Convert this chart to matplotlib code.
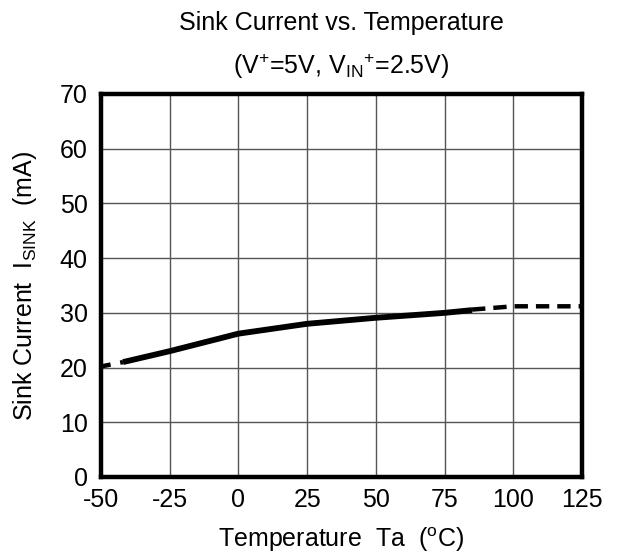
import matplotlib
matplotlib.use("Agg")
import matplotlib.pyplot as plt

plt.rcParams['font.family'] = ['Liberation Sans', 'DejaVu Sans']
plt.rcParams['mathtext.fontset'] = 'custom'
plt.rcParams['mathtext.rm'] = 'Liberation Sans'
plt.rcParams['mathtext.it'] = 'Liberation Sans:italic'
plt.rcParams['mathtext.bf'] = 'Liberation Sans:bold'

# data
solid_temp = [-42, -25, 0, 25, 50, 75, 85]
solid_current = [21.0, 23.0, 26.2, 28.0, 29.1, 30.0, 30.5]
dash_left_temp = [-50, -42]
dash_left_current = [20.2, 21.0]
dash_right_temp = [85, 100, 125]
dash_right_current = [30.6, 31.2, 31.2]
xticks = [-50, -25, 0, 25, 50, 75, 100, 125]
yticks = [0, 10, 20, 30, 40, 50, 60, 70]

FS = 18

fig = plt.figure(figsize=(6.2, 5.56), dpi=100)
ax = fig.add_axes([101/620, 1-477/556, 481/620, 383/556])

ax.plot(solid_temp, solid_current, color='black', lw=4.2, solid_capstyle='butt', zorder=4)
ax.plot(dash_left_temp, dash_left_current, color='black', lw=3.2, dashes=(2.2, 2.2), dash_capstyle='butt', zorder=4)
ax.plot(dash_right_temp, dash_right_current, color='black', lw=3.2, dashes=(3, 1.8), dash_capstyle='butt', zorder=4)

ax.set_xlim(-50, 125)
ax.set_ylim(0, 70)
ax.set_xticks(xticks)
ax.set_yticks(yticks)
ax.set_xticklabels([str(v) for v in xticks])
ax.set_yticklabels([str(v) for v in yticks])
ax.tick_params(axis='x', length=0, labelsize=FS, pad=8)
ax.tick_params(axis='y', length=0, labelsize=FS, pad=9.5)
ax.grid(True, color='#555555', lw=1)
ax.set_axisbelow(True)
for s in ax.spines.values():
    s.set_linewidth(3.2)
    s.set_color('black')

cx = (101 + 582) / 2 / 620
fig.text(cx, 1-23/556, 'Sink Current vs. Temperature', ha='center', va='center', fontsize=FS)
fig.text(cx, 1-66/556, r'(V$^{+}$=5V, V$_{\mathrm{IN}}$$^{+}$=2.5V)', ha='center', va='center', fontsize=FS)
fig.text(cx, 1-540/556, r'Temperature  Ta  ($^{\mathrm{o}}$C)', ha='center', va='center', fontsize=FS)
fig.text(25/620, 1-286/556, r'Sink Current  I$_{\mathrm{SINK}}$  (mA)', ha='center', va='center', fontsize=FS, rotation=90)

fig.savefig('out.png', dpi=100)
